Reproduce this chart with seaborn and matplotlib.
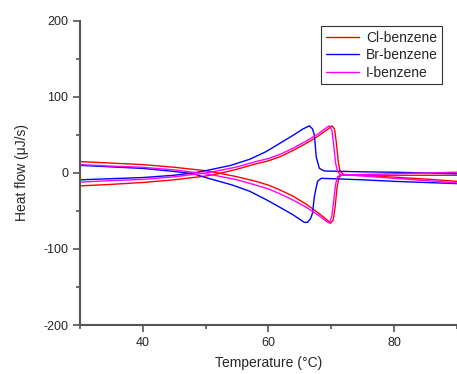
import numpy as np
import pandas as pd
import matplotlib
matplotlib.use("Agg")
import matplotlib.pyplot as plt
import seaborn as sns
from matplotlib.ticker import MultipleLocator

# Cl-benzene: branch with the positive peak, then branch with the negative peak
cl_up_t = [30, 35, 40, 45, 50, 52, 55, 58, 60, 62, 64, 66, 68, 69.5, 70.1, 70.5, 70.8, 71.1, 71.4, 72, 75, 80, 85, 90]
cl_up_q = [-17, -15, -12.5, -9, -4, -1, 5, 12, 16, 22, 30, 39, 49, 58, 62, 58, 40, 15, 2, -2, -3.5, -5.5, -8, -11]
cl_dn_t = [30, 35, 40, 45, 50, 52, 55, 58, 60, 62, 64, 66, 68, 69.5, 69.9, 70.3, 70.6, 70.9, 71.2, 71.6, 75, 80, 85, 90]
cl_dn_q = [15, 13, 11, 7.5, 3, 0, -5, -11, -16, -23, -31, -41, -53, -63, -66, -62, -45, -20, -6, -3, -3, -3, -3, -3]

# Br-benzene
br_up_t = [30, 35, 40, 45, 48, 50, 54, 57, 59.6, 62, 64, 65.5, 66.5, 67.0, 67.3, 67.6, 68.1, 68.9, 75, 80, 85, 90]
br_up_q = [-9, -7.5, -6, -3, 0, 3, 10, 18, 28, 40, 50, 58, 62, 58, 50, 21, 6, 2.6, 1.5, 1, 0, -1]
br_dn_t = [30, 35, 40, 45, 48, 50, 54.3, 57, 59.6, 62, 63.9, 65.7, 66.2, 66.7, 67.0, 67.3, 67.8, 68.4, 75, 80, 85, 90]
br_dn_q = [10, 8, 6, 2, -1, -6, -16, -24, -35, -46, -55, -65, -65, -60, -53, -31, -11, -7, -9, -11, -12.5, -14]

# I-benzene
i_up_t = [30, 35, 40, 45, 50, 52, 55, 58, 60, 62, 64, 66, 68, 69.3, 69.7, 70.1, 70.4, 70.7, 71.0, 71.4, 75, 80, 85, 90]
i_up_q = [-12, -10, -8.5, -5, 0, 3, 8, 15, 19, 25, 33, 42, 52, 60, 62, 56, 35, 12, 2, -2, -4, -7, -10, -13]
i_dn_t = [30, 35, 40, 45, 50, 52, 55, 58, 60, 62, 64, 66, 68, 69.3, 69.7, 70.1, 70.4, 70.7, 71.0, 71.4, 75, 80, 85, 90]
i_dn_q = [11, 9, 7.5, 4, -1, -4, -9, -16, -21, -28, -36, -45, -56, -64, -66, -56, -35, -14, -5, -3, -2, -1, 0, 1]

samples = ["Cl-benzene", "Br-benzene", "I-benzene"]
colors = ["#ff0000", "#0000ff", "#ff00ff"]

rows = []
for name, (ut, uq, dt, dq) in zip(samples, [(cl_up_t, cl_up_q, cl_dn_t, cl_dn_q),
                                            (br_up_t, br_up_q, br_dn_t, br_dn_q),
                                            (i_up_t, i_up_q, i_dn_t, i_dn_q)]):
    for t, q in zip(ut, uq):
        rows.append((name, "up", t, q))
    for t, q in zip(dt, dq):
        rows.append((name, "down", t, q))
df = pd.DataFrame(rows, columns=["sample", "branch", "T", "Q"])

sns.set_style("ticks")
plt.rcParams["font.family"] = ["Liberation Sans", "DejaVu Sans"]
plt.rcParams["axes.unicode_minus"] = False

fig = plt.figure(figsize=(4.57, 3.74), dpi=100)
ax = fig.add_axes([0.175, 0.131, 0.825, 0.813])
sns.lineplot(data=df, x="T", y="Q", hue="sample", units="branch", estimator=None,
             sort=False, palette=colors, hue_order=samples, linewidth=1.0, ax=ax)

ax.set_xlim(30, 90)
ax.set_ylim(-200, 200)
ax.xaxis.set_major_locator(MultipleLocator(20))
ax.xaxis.set_minor_locator(MultipleLocator(10))
ax.yaxis.set_major_locator(MultipleLocator(100))
ax.yaxis.set_minor_locator(MultipleLocator(50))
ax.tick_params(which="major", length=5, width=1.2, color="#555555", labelsize=9, direction="out")
ax.tick_params(which="minor", length=3, width=1.2, color="#555555", direction="out")
for s in ["top", "right"]:
    ax.spines[s].set_visible(False)
for s in ["left", "bottom"]:
    ax.spines[s].set_color("#555555")
    ax.spines[s].set_linewidth(1.5)

ax.set_xlabel("Temperature (°C)", fontsize=10, labelpad=5)
ax.set_ylabel("Heat flow (μJ/s)", fontsize=10, labelpad=10)

leg = ax.legend(loc="upper right", bbox_to_anchor=(0.96, 0.982), fontsize=10, frameon=True,
                fancybox=False, edgecolor="black", handlelength=2.4, borderpad=0.3,
                labelspacing=0.25, handletextpad=0.5, borderaxespad=0)
leg.get_frame().set_linewidth(0.8)

fig.savefig("out.png", dpi=100)
